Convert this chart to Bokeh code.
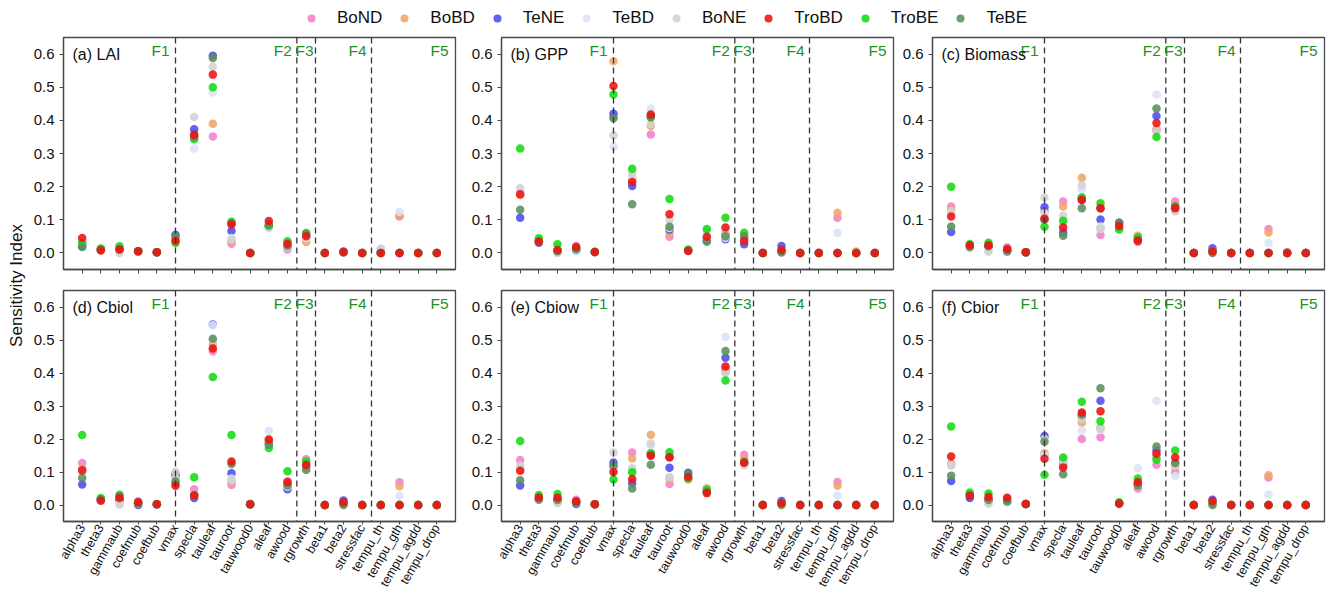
import math
from bokeh.plotting import figure
from bokeh.models import (Span, Label, FixedTicker, NumeralTickFormatter, Legend,
                          LegendItem, Range1d, ColumnDataSource)
from bokeh.layouts import row, column
from bokeh.embed import file_html
from bokeh.resources import INLINE

# ---------------- data ----------------
params = ["alpha3", "theta3", "gammaub", "coefmub", "coefbub", "vmax", "specla",
          "tauleaf", "tauroot", "tauwood0", "aleaf", "awood", "rgrowth", "beta1",
          "beta2", "stressfac", "tempu_th", "tempu_gth", "tempu_agdd", "tempu_drop"]

pfts = ["BoND", "BoBD", "TeNE", "TeBD", "BoNE", "TroBD", "TroBE", "TeBE"]
pft_colors = ["#f27fcb", "#efa66b", "#4c4cf0", "#d9e3f7", "#d2d2d2", "#ee1111", "#12dc12", "#5a8f5a"]

group_bounds = [5, 11.5, 12.5, 15.5]
group_labels = ["F1", "F2", "F3", "F4", "F5"]
y_ticks = [0.0, 0.1, 0.2, 0.3, 0.4, 0.5, 0.6]

lai = {
    "BoND":  [0.030, 0.010, 0.010, 0.005, 0.002, 0.040, 0.355, 0.351, 0.028, 0.0, 0.080, 0.010, 0.050, 0, 0.002, 0, 0.012, 0.110, 0, 0],
    "BoBD":  [0.030, 0.010, 0.010, 0.005, 0.002, 0.040, 0.360, 0.390, 0.035, 0.0, 0.080, 0.020, 0.033, 0, 0.002, 0, 0.005, 0.112, 0, 0],
    "TeNE":  [0.020, 0.010, 0.010, 0.005, 0.002, 0.055, 0.373, 0.595, 0.066, 0.0, 0.080, 0.020, 0.050, 0, 0.004, 0, 0.0, 0.0, 0, 0],
    "TeBD":  [0.030, 0.010, 0.005, 0.005, 0.002, 0.040, 0.315, 0.484, 0.045, 0.0, 0.076, 0.020, 0.045, 0, 0.002, 0, 0.008, 0.124, 0, 0],
    "BoNE":  [0.030, 0.010, 0.000, 0.003, 0.002, 0.040, 0.410, 0.562, 0.040, 0.0, 0.076, 0.017, 0.050, 0, 0.002, 0, 0.012, 0.0, 0, 0],
    "TroBD": [0.045, 0.007, 0.010, 0.005, 0.002, 0.037, 0.356, 0.538, 0.086, 0.0, 0.096, 0.028, 0.050, 0, 0.003, 0, 0.0, 0.0, 0, 0],
    "TroBE": [0.030, 0.013, 0.020, 0.005, 0.002, 0.030, 0.343, 0.500, 0.094, 0.0, 0.082, 0.035, 0.060, 0, 0.002, 0, 0.0, 0.0, 0, 0],
    "TeBE":  [0.018, 0.010, 0.012, 0.005, 0.002, 0.050, 0.350, 0.588, 0.090, 0.0, 0.086, 0.022, 0.058, 0, 0.002, 0, 0.0, 0.0, 0, 0],
}

gpp = {
    "BoND":  [0.180, 0.035, 0.005, 0.021, 0.003, 0.410, 0.225, 0.357, 0.049, 0.007, 0.045, 0.060, 0.045, 0, 0.005, 0, 0, 0.106, 0.0, 0],
    "BoBD":  [0.175, 0.035, 0.005, 0.012, 0.003, 0.578, 0.220, 0.383, 0.060, 0.007, 0.045, 0.055, 0.045, 0, 0.005, 0, 0, 0.121, 0.004, 0],
    "TeNE":  [0.106, 0.031, 0.005, 0.007, 0.003, 0.420, 0.202, 0.415, 0.071, 0.007, 0.038, 0.041, 0.026, 0, 0.021, 0, 0, 0.0, 0.0, 0],
    "TeBD":  [0.180, 0.035, 0.003, 0.007, 0.003, 0.320, 0.230, 0.435, 0.075, 0.007, 0.045, 0.045, 0.045, 0, 0.005, 0, 0, 0.061, 0.0, 0],
    "BoNE":  [0.195, 0.035, 0.000, 0.012, 0.003, 0.354, 0.240, 0.389, 0.100, 0.007, 0.065, 0.058, 0.045, 0, 0.005, 0, 0, 0.0, 0.0, 0],
    "TroBD": [0.177, 0.034, 0.009, 0.018, 0.003, 0.504, 0.214, 0.418, 0.117, 0.006, 0.049, 0.077, 0.037, 0, 0.009, 0, 0, 0.0, 0.0, 0],
    "TroBE": [0.315, 0.044, 0.026, 0.012, 0.003, 0.478, 0.254, 0.409, 0.163, 0.010, 0.072, 0.106, 0.061, 0, 0.005, 0, 0, 0.0, 0.0, 0],
    "TeBE":  [0.130, 0.035, 0.005, 0.012, 0.003, 0.406, 0.147, 0.410, 0.079, 0.007, 0.034, 0.050, 0.050, 0, 0.001, 0, 0, 0.0, 0.0, 0],
}

biomass = {
    "BoND":  [0.140, 0.022, 0.020, 0.017, 0.002, 0.125, 0.155, 0.160, 0.054, 0.075, 0.033, 0.370, 0.155, 0, 0.005, 0, 0, 0.072, 0.0, 0],
    "BoBD":  [0.130, 0.022, 0.020, 0.008, 0.002, 0.125, 0.140, 0.227, 0.075, 0.075, 0.052, 0.373, 0.145, 0, 0.005, 0, 0, 0.062, 0.003, 0],
    "TeNE":  [0.063, 0.022, 0.020, 0.004, 0.002, 0.138, 0.062, 0.165, 0.101, 0.091, 0.040, 0.413, 0.130, 0, 0.014, 0, 0, 0.0, 0.0, 0],
    "TeBD":  [0.120, 0.022, 0.005, 0.008, 0.002, 0.120, 0.090, 0.190, 0.080, 0.075, 0.040, 0.478, 0.130, 0, 0.005, 0, 0, 0.030, 0.0, 0],
    "BoNE":  [0.125, 0.022, 0.004, 0.008, 0.002, 0.167, 0.112, 0.204, 0.072, 0.075, 0.040, 0.367, 0.125, 0, 0.005, 0, 0, 0.0, 0.0, 0],
    "TroBD": [0.110, 0.023, 0.023, 0.012, 0.002, 0.104, 0.077, 0.160, 0.135, 0.081, 0.037, 0.392, 0.135, 0, 0.005, 0, 0, 0.0, 0.0, 0],
    "TroBE": [0.200, 0.027, 0.031, 0.008, 0.002, 0.079, 0.097, 0.167, 0.150, 0.071, 0.047, 0.350, 0.140, 0, 0.005, 0, 0, 0.0, 0.0, 0],
    "TeBE":  [0.080, 0.017, 0.020, 0.008, 0.002, 0.100, 0.052, 0.135, 0.135, 0.091, 0.040, 0.436, 0.140, 0, 0.000, 0, 0, 0.0, 0.0, 0],
}

cbiol = {
    "BoND":  [0.127, 0.017, 0.015, 0.011, 0.002, 0.095, 0.048, 0.466, 0.061, 0.002, 0.190, 0.073, 0.139, 0, 0.005, 0, 0, 0.069, 0, 0],
    "BoBD":  [0.110, 0.017, 0.015, 0.005, 0.002, 0.095, 0.030, 0.486, 0.070, 0.004, 0.200, 0.065, 0.130, 0, 0.005, 0, 0, 0.057, 0, 0],
    "TeNE":  [0.062, 0.017, 0.015, 0.000, 0.002, 0.089, 0.021, 0.547, 0.096, 0.002, 0.185, 0.048, 0.115, 0, 0.014, 0, 0, 0.0, 0, 0],
    "TeBD":  [0.100, 0.017, 0.005, 0.005, 0.002, 0.080, 0.030, 0.545, 0.080, 0.002, 0.225, 0.055, 0.110, 0, 0.005, 0, 0, 0.028, 0, 0],
    "BoNE":  [0.100, 0.017, 0.001, 0.005, 0.002, 0.100, 0.030, 0.500, 0.074, 0.002, 0.183, 0.060, 0.107, 0, 0.005, 0, 0, 0.0, 0, 0],
    "TroBD": [0.105, 0.013, 0.021, 0.008, 0.002, 0.058, 0.029, 0.474, 0.132, 0.002, 0.198, 0.069, 0.121, 0, 0.008, 0, 0, 0.0, 0, 0],
    "TroBE": [0.212, 0.021, 0.031, 0.005, 0.002, 0.065, 0.084, 0.388, 0.212, 0.002, 0.173, 0.102, 0.132, 0, 0.005, 0, 0, 0.0, 0, 0],
    "TeBE":  [0.082, 0.017, 0.027, 0.005, 0.002, 0.072, 0.030, 0.504, 0.124, 0.002, 0.183, 0.059, 0.107, 0, 0.000, 0, 0, 0.0, 0, 0],
}

cbiow = {
    "BoND":  [0.136, 0.020, 0.015, 0.016, 0.002, 0.115, 0.159, 0.150, 0.064, 0.080, 0.040, 0.410, 0.152, 0, 0.005, 0, 0, 0.070, 0, 0],
    "BoBD":  [0.110, 0.020, 0.015, 0.008, 0.002, 0.115, 0.141, 0.213, 0.080, 0.077, 0.051, 0.405, 0.141, 0, 0.005, 0, 0, 0.058, 0, 0],
    "TeNE":  [0.059, 0.020, 0.015, 0.003, 0.002, 0.129, 0.066, 0.155, 0.113, 0.098, 0.040, 0.446, 0.125, 0, 0.012, 0, 0, 0.0, 0, 0],
    "TeBD":  [0.110, 0.020, 0.006, 0.008, 0.002, 0.110, 0.105, 0.179, 0.085, 0.080, 0.040, 0.510, 0.120, 0, 0.005, 0, 0, 0.029, 0, 0],
    "BoNE":  [0.120, 0.020, 0.006, 0.008, 0.002, 0.159, 0.111, 0.186, 0.084, 0.080, 0.040, 0.400, 0.122, 0, 0.005, 0, 0, 0.0, 0, 0],
    "TroBD": [0.104, 0.023, 0.022, 0.011, 0.002, 0.100, 0.079, 0.149, 0.145, 0.085, 0.036, 0.420, 0.128, 0, 0.006, 0, 0, 0.0, 0, 0],
    "TroBE": [0.194, 0.030, 0.033, 0.008, 0.002, 0.077, 0.099, 0.157, 0.160, 0.080, 0.046, 0.377, 0.130, 0, 0.005, 0, 0, 0.0, 0, 0],
    "TeBE":  [0.075, 0.016, 0.015, 0.008, 0.002, 0.120, 0.050, 0.122, 0.145, 0.095, 0.040, 0.467, 0.130, 0, 0.000, 0, 0, 0.0, 0, 0],
}

cbior = {
    "BoND":  [0.124, 0.030, 0.015, 0.020, 0.003, 0.150, 0.120, 0.200, 0.205, 0.005, 0.050, 0.122, 0.100, 0, 0.006, 0, 0, 0.083, 0, 0],
    "BoBD":  [0.124, 0.030, 0.015, 0.012, 0.003, 0.157, 0.125, 0.249, 0.234, 0.005, 0.065, 0.145, 0.117, 0, 0.006, 0, 0, 0.090, 0, 0],
    "TeNE":  [0.073, 0.021, 0.015, 0.009, 0.003, 0.209, 0.130, 0.270, 0.316, 0.005, 0.063, 0.165, 0.127, 0, 0.016, 0, 0, 0.0, 0, 0],
    "TeBD":  [0.120, 0.030, 0.008, 0.012, 0.003, 0.150, 0.132, 0.226, 0.227, 0.005, 0.111, 0.316, 0.088, 0, 0.006, 0, 0, 0.032, 0, 0],
    "BoNE":  [0.120, 0.030, 0.004, 0.009, 0.003, 0.200, 0.140, 0.260, 0.230, 0.005, 0.060, 0.150, 0.120, 0, 0.006, 0, 0, 0.0, 0, 0],
    "TroBD": [0.147, 0.028, 0.024, 0.022, 0.003, 0.140, 0.114, 0.280, 0.284, 0.004, 0.069, 0.155, 0.144, 0, 0.012, 0, 0, 0.0, 0, 0],
    "TroBE": [0.238, 0.038, 0.035, 0.012, 0.003, 0.092, 0.144, 0.313, 0.254, 0.008, 0.080, 0.137, 0.165, 0, 0.006, 0, 0, 0.0, 0, 0],
    "TeBE":  [0.089, 0.030, 0.015, 0.012, 0.003, 0.192, 0.093, 0.274, 0.354, 0.005, 0.059, 0.177, 0.127, 0, 0.000, 0, 0, 0.0, 0, 0],
}

panel_titles = ["(a) LAI", "(b) GPP", "(c) Biomass", "(d) Cbiol", "(e) Cbiow", "(f) Cbior"]
panel_data = [lai, gpp, biomass, cbiol, cbiow, cbior]

# ---------------- styling ----------------
FONT = "Liberation Sans"
GREEN_TXT = "#1f931f"
FRAME_W = 392
YLAB_W = 26
LEG_H = 28
ROW1_H = 253
ROW2_H = 314
LEFTS = [37, 41, 34]
RIGHTS = [5, 5, 3]
draw_order = ["BoND", "BoBD", "TeNE", "TeBD", "BoNE", "TroBE", "TeBE", "TroBD"]
color_of = dict(zip(pfts, pft_colors))
label_offsets = [-6, -5, -2, -5, -7]


def make_panel(title, data, col, bottom_row):
    h = ROW2_H if bottom_row else ROW1_H
    p = figure(width=LEFTS[col] + FRAME_W + RIGHTS[col], height=h,
               x_range=Range1d(-1, 20), y_range=Range1d(-0.05, 0.65),
               output_backend="svg", toolbar_location=None, tools="",
               min_border_left=LEFTS[col], min_border_right=RIGHTS[col],
               min_border_top=9, min_border_bottom=12)
    p.outline_line_color = "#4a4a4a"
    p.outline_line_width = 1.3
    p.xgrid.visible = False
    p.ygrid.visible = False
    p.background_fill_color = "white"
    p.border_fill_color = "white"

    for ax in (p.xaxis[0], p.yaxis[0]):
        ax.axis_line_color = "#4a4a4a"
        ax.axis_line_width = 1.3
        ax.major_tick_line_color = "#4a4a4a"
        ax.major_tick_in = 0
        ax.major_tick_out = 4
        ax.minor_tick_line_color = None
        ax.major_label_text_font = FONT
        ax.major_label_text_color = "#111111"

    p.yaxis.ticker = FixedTicker(ticks=y_ticks)
    p.yaxis.formatter = NumeralTickFormatter(format="0.0")
    p.yaxis.major_label_text_font_size = "15px"
    p.yaxis.major_label_standoff = 5

    p.xaxis.ticker = FixedTicker(ticks=list(range(len(params))))
    if bottom_row:
        p.xaxis.major_label_overrides = {i: n for i, n in enumerate(params)}
        p.xaxis.major_label_orientation = math.pi / 3
        p.xaxis.major_label_text_font_size = "12.5px"
        p.xaxis.major_label_text_line_height = 0.8
        p.xaxis.major_label_standoff = 1
        p.xaxis.major_tick_out = 3
    else:
        p.xaxis.major_label_overrides = {i: "" for i in range(len(params))}
        p.xaxis.major_label_text_font_size = "1px"
        p.xaxis.major_label_standoff = 0

    for b in group_bounds:
        p.add_layout(Span(location=b, dimension="height", line_color="#333333",
                          line_width=1.3, line_dash="6 4"))

    label_xs = group_bounds + [20]
    for lx, lt, off in zip(label_xs, group_labels, label_offsets):
        p.add_layout(Label(x=lx, y=0.612, x_offset=off, text=lt,
                           text_align="right", text_baseline="middle",
                           text_font=FONT, text_font_size="15.5px", text_color=GREEN_TXT))

    p.add_layout(Label(x=-1, y=0.600, x_offset=9, text=title, text_align="left",
                       text_baseline="middle", text_font=FONT, text_font_size="16px",
                       text_color="#111111"))

    xs = list(range(len(params)))
    for pft in draw_order:
        src = ColumnDataSource(dict(x=xs, y=data[pft]))
        p.scatter("x", "y", source=src, size=8.5, fill_color=color_of[pft],
                  fill_alpha=0.88, line_color=None)
    return p


panels = [make_panel(t, d, i % 3, i >= 3) for i, (t, d) in enumerate(zip(panel_titles, panel_data))]

TOTAL_W = YLAB_W + sum(LEFTS) + 3 * FRAME_W + sum(RIGHTS)

# legend strip
leg = figure(width=TOTAL_W, height=LEG_H, x_range=Range1d(0, 1), y_range=Range1d(0, 1),
             output_backend="svg", toolbar_location=None, tools="",
             x_axis_location=None, y_axis_location=None,
             min_border=0, min_border_left=0, min_border_right=0,
             min_border_top=0, min_border_bottom=0)
leg.outline_line_color = None
leg.xgrid.visible = False
leg.ygrid.visible = False
items = []
nan = float("nan")
for pft in pfts:
    r = leg.scatter(x=[nan], y=[nan], size=7, fill_color=color_of[pft], fill_alpha=0.88,
                    line_color=None)
    items.append(LegendItem(label=pft, renderers=[r]))
legend = Legend(items=items, orientation="horizontal", location=(301, 0),
                glyph_width=20, glyph_height=20, label_standoff=16, spacing=12,
                padding=0, margin=0, border_line_color=None, background_fill_alpha=0,
                label_text_font=FONT, label_text_font_size="17px", label_text_color="#111111",
                label_height=20)
leg.add_layout(legend, "center")

# y-axis title strip
ylab_h = ROW1_H + ROW2_H
ylab = figure(width=YLAB_W, height=ylab_h, x_range=Range1d(0, YLAB_W), y_range=Range1d(0, ylab_h),
              output_backend="svg", toolbar_location=None, tools="",
              x_axis_location=None, y_axis_location=None,
              min_border=0, min_border_left=0, min_border_right=0,
              min_border_top=0, min_border_bottom=0)
ylab.outline_line_color = None
ylab.xgrid.visible = False
ylab.ygrid.visible = False
ylab.add_layout(Label(x=16, y=ylab_h - 257, text="Sensitivity Index", angle=math.pi / 2,
                      text_align="center", text_baseline="middle", text_font=FONT,
                      text_font_size="17px", text_color="#111111"))

layout = column(leg, row(ylab, column(row(*panels[:3]), row(*panels[3:]))))

open("out.html", "w").write(file_html(layout, INLINE))
